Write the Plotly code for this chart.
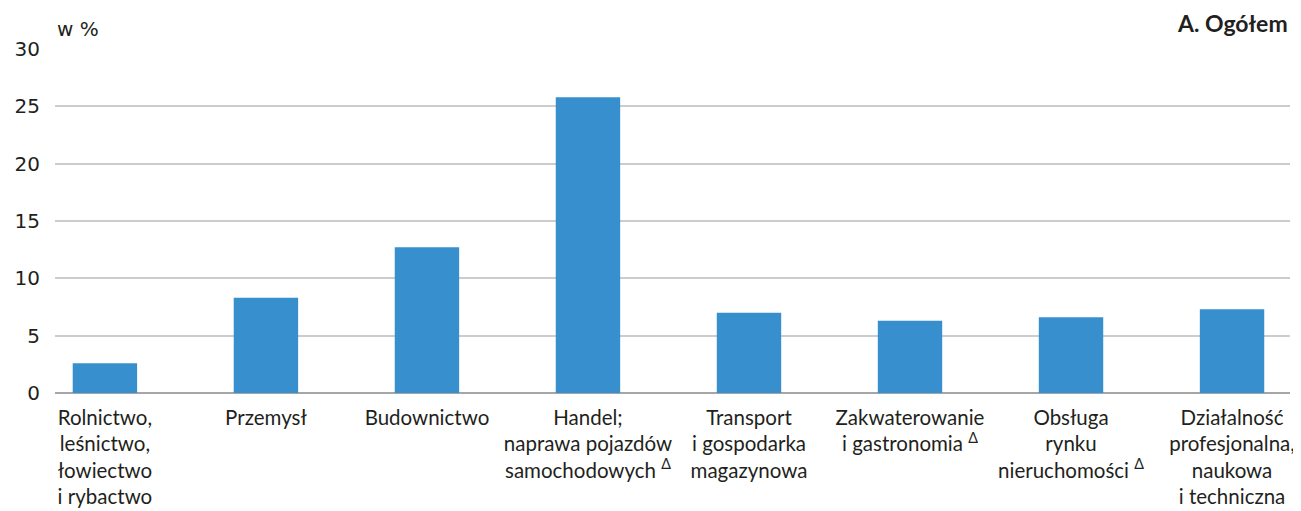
import plotly.graph_objects as go

categories = [
    "Rolnictwo,<br>leśnictwo,<br>łowiectwo<br>i rybactwo",
    "Przemysł",
    "Budownictwo",
    "Handel;<br>naprawa pojazdów<br>samochodowych <sup>Δ</sup>",
    "Transport<br>i gospodarka<br>magazynowa",
    "Zakwaterowanie<br>i gastronomia <sup>Δ</sup>",
    "Obsługa<br>rynku<br>nieruchomości <sup>Δ</sup>",
    "Działalność<br>profesjonalna,<br>naukowa<br>i techniczna",
]
values = [2.6, 8.3, 12.7, 25.8, 7.0, 6.3, 6.6, 7.3]
y_ticks = [0, 5, 10, 15, 20, 25, 30]

LABEL_FONT = "Lato, Liberation Sans, sans-serif"
NUM_FONT = "DejaVu Sans, sans-serif"

fig = go.Figure()
fig.add_trace(go.Bar(x=list(range(len(categories))), y=values,
                     marker=dict(color="#378fcd", line=dict(width=0)),
                     width=0.40, hoverinfo="skip"))

# page body has an 8px default margin, so the figure is 8px smaller
fig.update_layout(
    width=1293, height=503,
    margin=dict(l=47, r=11, t=41, b=118, autoexpand=False),
    paper_bgcolor="white", plot_bgcolor="white",
    showlegend=False,
    font=dict(family=LABEL_FONT, color="#231f20"),
    xaxis=dict(
        tickmode="array", tickvals=list(range(len(categories))), ticktext=categories,
        range=[-0.31, 7.36], showgrid=False, zeroline=False, showline=False,
        tickfont=dict(size=20.5, family=LABEL_FONT),
        ticks="", ticklabelstandoff=10, automargin=False,
        ticklabeloverflow="allow",
    ),
    yaxis=dict(
        range=[0, 30], tickvals=y_ticks, showgrid=True, gridcolor="#cccccc", gridwidth=1.5,
        zeroline=True, zerolinecolor="#a6a6a6", zerolinewidth=1.5,
        tickfont=dict(size=20, family=NUM_FONT, color="#231f20"),
        ticks="", ticklabelstandoff=14, automargin=False,
    ),
    annotations=[
        dict(text="w %", xref="paper", yref="paper", x=0.0, y=1.0, xanchor="left",
             yanchor="bottom", yshift=6, showarrow=False,
             font=dict(size=20, family=NUM_FONT, color="#231f20")),
        dict(text="<b>A. Ogółem</b>", xref="paper", yref="paper", x=1.0, y=1.0,
             xanchor="right", yanchor="bottom", xshift=0, yshift=10, showarrow=False,
             font=dict(size=23, family=LABEL_FONT, color="#231f20")),
    ],
)

fig.write_html("out.html")
